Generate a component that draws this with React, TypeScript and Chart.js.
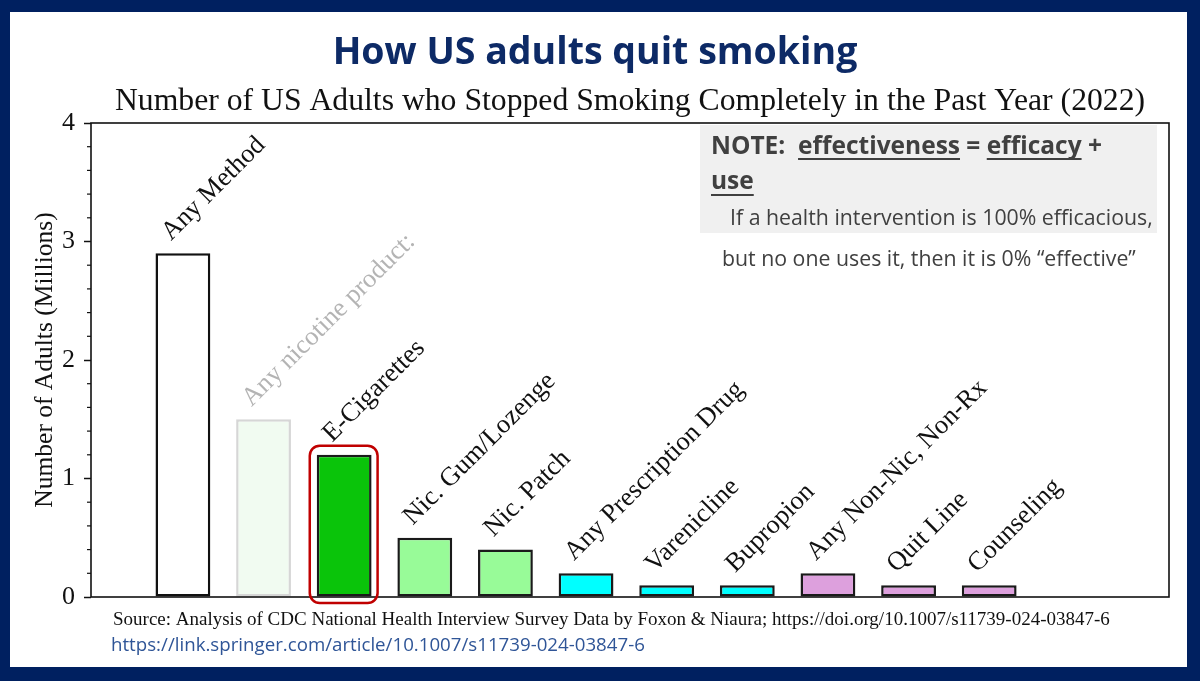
import { useEffect, useRef } from 'react';
import { Chart, registerables } from 'chart.js';

Chart.register(...registerables);

// Quit methods used by US adults who stopped smoking in the past year (2022)
const methods = [
  'Any Method',
  'Any nicotine product:',
  'E-Cigarettes',
  'Nic. Gum/Lozenge',
  'Nic. Patch',
  'Any Prescription Drug',
  'Varenicline',
  'Bupropion',
  'Any Non-Nic, Non-Rx',
  'Quit Line',
  'Counseling',
];

// Number of adults (millions) per method
const adultsMillions = [2.9, 1.5, 1.2, 0.5, 0.4, 0.2, 0.1, 0.1, 0.2, 0.1, 0.1];

const barFills = [
  '#ffffff', '#f1fbf1', '#0ac40a', '#98fb98', '#98fb98',
  '#00ffff', '#00ffff', '#00ffff', '#dda0dd', '#dda0dd', '#dda0dd',
];
const barEdges = [
  '#111111', '#d6d6d6', '#1a1a1a', '#1a1a1a', '#1a1a1a',
  '#1a1a1a', '#1a1a1a', '#1a1a1a', '#1a1a1a', '#1a1a1a', '#1a1a1a',
];
const labelColors = [
  '#111111', '#b4b4b4', '#111111', '#111111', '#111111',
  '#111111', '#111111', '#111111', '#111111', '#111111', '#111111',
];

const highlightedIndex = 2; // E-Cigarettes
const yMajorStep = 1;
const yMinorStep = 0.2;
const yMax = 4;

const titleText = 'How US adults quit smoking';
const subtitleText =
  'Number of US Adults who Stopped Smoking Completely in the Past Year (2022)';
const yAxisTitle = 'Number of Adults (Millions)';
const sourceText =
  'Source: Analysis of CDC National Health Interview Survey Data by Foxon & Niaura; https://doi.org/10.1007/s11739-024-03847-6';
const linkText = 'https://link.springer.com/article/10.1007/s11739-024-03847-6';
const noteLead = 'NOTE:  ';
const noteWordA = 'effectiveness';
const noteMid = ' = ';
const noteWordB = 'efficacy';
const noteTail = ' +';
const noteWordC = 'use';
const noteLine1 = 'If a health intervention is 100% efficacious,';
const noteLine2 = 'but no one uses it, then it is 0% \u201ceffective\u201d';

const SERIF = '"Liberation Serif", "DejaVu Serif", serif';
const SANS = '"Open Sans", "Noto Sans", sans-serif';
const NAVY = '#002060';

const pagePlugin = {
  id: 'pageDecor',
  beforeDraw(chart: any) {
    const { ctx, width, height, chartArea } = chart;
    ctx.save();
    ctx.fillStyle = NAVY;
    ctx.fillRect(0, 0, width, height);
    ctx.fillStyle = '#ffffff';
    ctx.fillRect(10, 12, 1177, 655);
    // shaded note panel in the upper right of the plot
    ctx.fillStyle = '#f0f0f0';
    ctx.fillRect(700, chartArea.top + 2, 457, 108);
    ctx.restore();
  },
  afterDatasetsDraw(chart: any) {
    const { ctx, chartArea } = chart;
    const yScale = chart.scales.y;
    const meta = chart.getDatasetMeta(0);

    ctx.save();
    // plot frame
    ctx.strokeStyle = '#111111';
    ctx.lineWidth = 1.6;
    ctx.strokeRect(chartArea.left, chartArea.top, chartArea.right - chartArea.left, chartArea.bottom - chartArea.top);

    // minor ticks on the y axis
    ctx.lineWidth = 1.2;
    for (let v = yMinorStep; v < yMax; v += yMinorStep) {
      const r = Math.round(v * 1000) / 1000;
      if (Math.abs(r - Math.round(r)) < 1e-6) continue;
      const py = yScale.getPixelForValue(r);
      ctx.beginPath();
      ctx.moveTo(chartArea.left - 4, py);
      ctx.lineTo(chartArea.left, py);
      ctx.stroke();
    }

    // rotated method names above each bar
    ctx.font = `26.5px ${SERIF}`;
    ctx.textAlign = 'left';
    ctx.textBaseline = 'alphabetic';
    meta.data.forEach((bar: any, i: number) => {
      ctx.save();
      ctx.translate(bar.x - 12, bar.y - 12);
      ctx.rotate(-Math.PI / 4);
      ctx.fillStyle = labelColors[i];
      ctx.fillText(methods[i], 0, 0);
      ctx.restore();
    });

    // rounded highlight around the E-Cigarettes bar
    const hb: any = meta.data[highlightedIndex];
    const left = hb.x - hb.width / 2 - 7;
    const right = hb.x + hb.width / 2 + 6;
    const top = hb.y - 9;
    const bottom = yScale.getPixelForValue(0) + 6;
    ctx.strokeStyle = '#c00000';
    ctx.lineWidth = 2.5;
    ctx.beginPath();
    ctx.roundRect(left, top, right - left, bottom - top, 10);
    ctx.stroke();
    ctx.restore();
  },
  afterDraw(chart: any) {
    const { ctx, chartArea } = chart;
    ctx.save();

    // headline
    ctx.fillStyle = '#0d2a66';
    ctx.font = `bold 37.5px ${SANS}`;
    ctx.textAlign = 'center';
    ctx.textBaseline = 'alphabetic';
    ctx.fillText(titleText, 595, 64);

    // chart subtitle
    ctx.fillStyle = '#111111';
    ctx.font = `31.7px ${SERIF}`;
    ctx.fillText(subtitleText, (chartArea.left + chartArea.right) / 2, 110);

    // source line and link
    ctx.textAlign = 'left';
    ctx.font = `19px ${SERIF}`;
    ctx.fillText(sourceText, 113, 625);
    ctx.fillStyle = '#2f5597';
    ctx.font = `18.7px ${SANS}`;
    ctx.fillText(linkText, 111, 651);

    // note text
    ctx.fillStyle = '#404040';
    ctx.strokeStyle = '#404040';
    ctx.lineWidth = 2;
    ctx.font = `bold 24.5px ${SANS}`;
    const x0 = 711;
    const line1 = noteLead + noteWordA + noteMid + noteWordB + noteTail;
    ctx.fillText(line1, x0, 154);
    const underline = (prefix: string, word: string, x: number, y: number) => {
      const sx = x + ctx.measureText(prefix).width;
      const w = ctx.measureText(word).width;
      ctx.beginPath();
      ctx.moveTo(sx, y);
      ctx.lineTo(sx + w, y);
      ctx.stroke();
    };
    underline(noteLead, noteWordA, x0, 159);
    underline(noteLead + noteWordA + noteMid, noteWordB, x0, 159);
    ctx.fillText(noteWordC, x0, 189);
    underline('', noteWordC, x0, 195);

    ctx.font = `21.3px ${SANS}`;
    ctx.fillText(noteLine1, 730, 225);
    ctx.fillText(noteLine2, 722, 266);

    ctx.restore();
  },
};

export default function App() {
  const canvasRef = useRef<HTMLCanvasElement | null>(null);

  useEffect(() => {
    const canvas = canvasRef.current;
    if (!canvas) return;
    const chart = new Chart(canvas, {
      type: 'bar',
      data: {
        datasets: [
          {
            data: methods.map((_, i) => ({ x: i, y: adultsMillions[i] })),
            backgroundColor: barFills,
            borderColor: barEdges,
            borderWidth: 2.5,
            borderSkipped: false,
            barPercentage: 0.68,
            categoryPercentage: 1,
          },
        ],
      },
      options: {
        animation: false,
        responsive: false,
        devicePixelRatio: 1,
        layout: { padding: { left: 0, right: 31, top: 123, bottom: 84 } },
        plugins: {
          legend: { display: false },
          tooltip: { enabled: false },
          title: { display: false },
        },
        scales: {
          x: {
            type: 'linear',
            min: -1.14,
            max: 12.23,
            offset: false,
            grid: { display: false, drawTicks: false },
            border: { display: false },
            ticks: { display: false },
            afterFit: (s: any) => {
              s.height = 0;
            },
          },
          y: {
            min: 0,
            max: yMax,
            ticks: {
              stepSize: yMajorStep,
              color: '#111111',
              padding: 9,
              font: { family: SERIF, size: 26 },
            },
            grid: {
              drawOnChartArea: false,
              drawTicks: true,
              tickLength: 7,
              tickColor: '#111111',
              tickWidth: 1.5,
            },
            border: { display: false },
            title: {
              display: true,
              text: yAxisTitle,
              color: '#111111',
              font: { family: SERIF, size: 25.5 },
              padding: { top: 30, bottom: 0 },
            },
            afterFit: (s: any) => {
              s.width = 91;
            },
          },
        },
      },
      plugins: [pagePlugin],
    } as any);
    return () => chart.destroy();
  }, []);

  return (
    <div style={{ position: 'absolute', left: 0, top: 0, width: 1200, height: 681 }}>
      <canvas ref={canvasRef} width={1200} height={681} />
    </div>
  );
}
